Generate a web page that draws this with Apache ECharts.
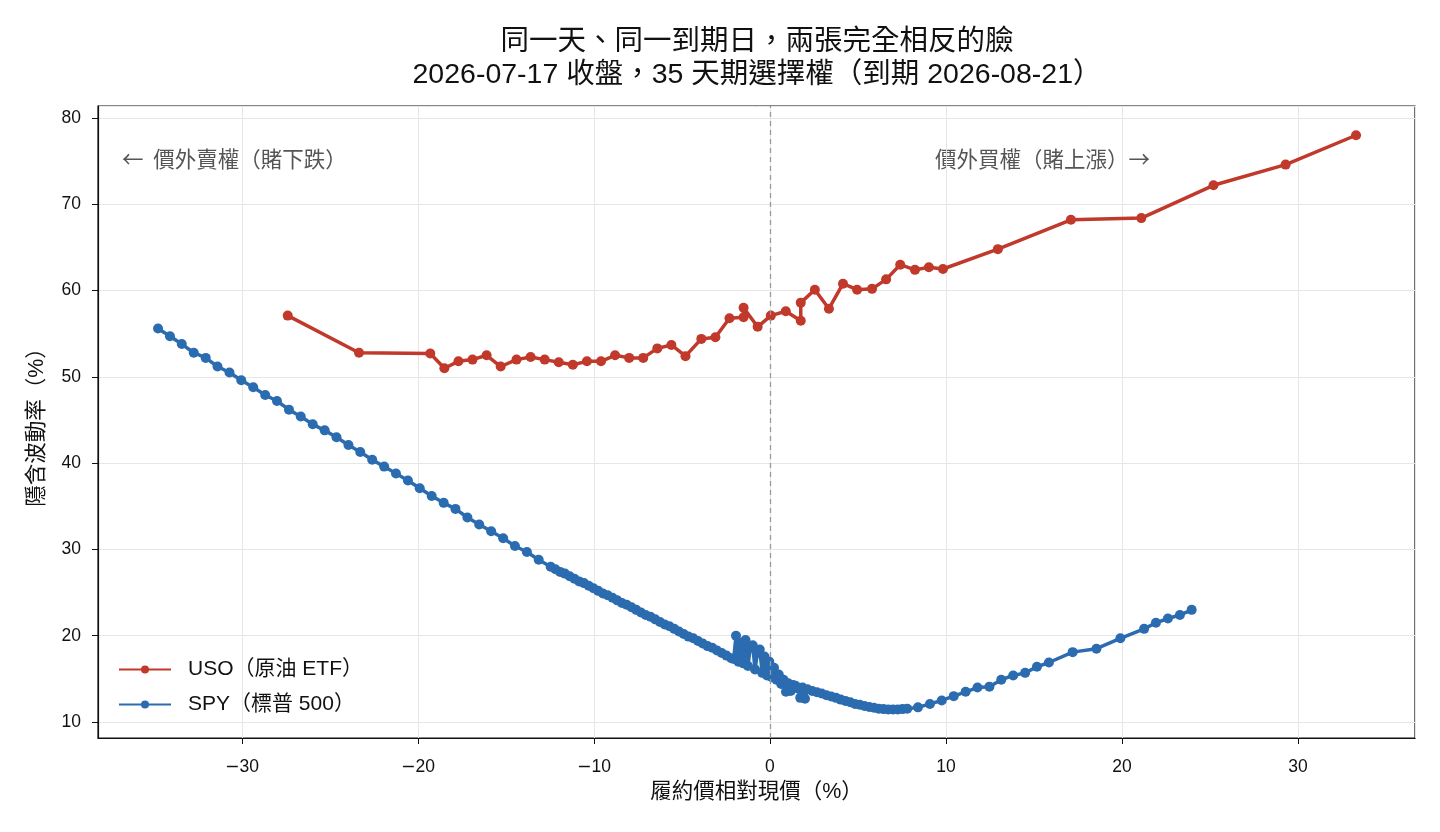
<!DOCTYPE html>
<html>
<head>
<meta charset="utf-8">
<title>USO vs SPY 隱含波動率</title>
<script src="https://cdn.jsdelivr.net/npm/echarts@6/dist/echarts.min.js"></script>
<style>
  html, body { margin: 0; padding: 0; background: #fff; }
  #chart { width: 1440px; height: 832px; }
</style>
</head>
<body>
<div id="chart"></div>
<script>
// USO (原油 ETF): strike vs spot (%) and implied vol (%)
const usoMoneyness = [-27.4, -23.35, -19.3, -18.5, -17.7, -16.9, -16.1, -15.3, -14.4, -13.6,
  -12.8, -12.0, -11.2, -10.4, -9.6, -8.8, -8.0, -7.2, -6.4, -5.6,
  -4.8, -3.9, -3.1, -2.3, -1.5, -1.5, -0.7, 0.05, 0.9, 1.75,
  1.75, 2.55, 3.35, 4.15, 4.95, 5.8, 6.6, 7.4, 8.24, 9.03,
  9.83, 12.95, 17.1, 21.1, 25.2, 29.3, 33.3];
const usoIV = [57.1, 52.8, 52.7, 51.0, 51.8, 52.0, 52.5, 51.2, 52.0, 52.3,
  52.0, 51.7, 51.4, 51.8, 51.8, 52.5, 52.2, 52.2, 53.3, 53.7,
  52.4, 54.4, 54.6, 56.8, 56.9, 58.0, 55.8, 57.1, 57.6, 56.5,
  58.6, 60.1, 57.9, 60.8, 60.1, 60.2, 61.3, 63.0, 62.4, 62.7,
  62.5, 64.8, 68.2, 68.4, 72.2, 74.6, 78.0];

// SPY (標普 500)
const spyMoneyness = [
  -34.77, -34.09, -33.42, -32.74, -32.06, -31.39, -30.71, -30.04, -29.36, -28.68,
  -28.01, -27.33, -26.66, -25.98, -25.30, -24.63, -23.95, -23.28, -22.60, -21.92,
  -21.25, -20.57, -19.90, -19.22, -18.54, -17.87, -17.19, -16.52, -15.84, -15.16,
  -14.49, -13.81, -13.14,
  -12.46, -12.19, -11.92, -11.65, -11.38, -11.11, -10.84, -10.57, -10.30, -10.03,
  -9.76, -9.49, -9.22, -8.95, -8.68, -8.41, -8.14, -7.87, -7.60, -7.33,
  -7.06, -6.79, -6.52, -6.25, -5.98, -5.71, -5.44, -5.17, -4.90, -4.63,
  -4.36, -4.09, -3.82, -3.55, -3.28, -3.01, -2.74, -2.47, -2.20,
  -2.06, -1.93, -1.79, -1.66, -1.52, -1.39, -1.25, -1.12, -0.98, -0.85,
  -0.71, -0.58, -0.44, -0.31, -0.17, -0.04, 0.10, 0.23, 0.37, 0.50,
  0.64, 0.77, 0.91, 1.04, 1.18, 1.31, 1.45, 1.58, 1.72, 1.85, 1.99,
  2.13, 2.40, 2.67, 2.94, 3.21, 3.48, 3.75, 4.02, 4.29, 4.56,
  4.83, 5.10, 5.37, 5.64, 5.91, 6.18, 6.45, 6.72, 6.99, 7.26, 7.53, 7.80,
  8.41, 9.09, 9.76, 10.44, 11.12, 11.79, 12.47, 13.14, 13.82, 14.50,
  15.17, 15.85, 17.20, 18.55, 19.91, 21.26, 21.93, 22.61, 23.29, 23.96];
const spyIV = [
  55.6, 54.7, 53.8, 52.8, 52.2, 51.2, 50.5, 49.6, 48.8, 47.9,
  47.2, 46.2, 45.4, 44.5, 43.8, 43.0, 42.1, 41.3, 40.4, 39.6,
  38.8, 38.0, 37.1, 36.2, 35.4, 34.7, 33.7, 32.9, 32.1, 31.3,
  30.4, 29.7, 28.8,
  28.0, 27.7, 27.4, 27.2, 26.9, 26.6, 26.3, 26.1, 25.8, 25.5,
  25.2, 24.9, 24.7, 24.4, 24.1, 23.8, 23.6, 23.3, 23.0, 22.7,
  22.4, 22.2, 21.9, 21.6, 21.3, 21.1, 20.8, 20.5, 20.2, 19.9,
  19.7, 19.4, 19.1, 18.8, 18.6, 18.3, 18.0, 17.7, 17.4,
  17.3, 20.0, 17.0, 19.2, 16.8, 19.5, 16.5, 18.6, 18.9, 16.1,
  18.0, 18.4, 15.7, 17.6, 15.4, 17.0, 15.2, 16.3, 14.9, 15.5,
  14.4, 14.9, 13.5, 14.5, 13.6, 14.3, 14.2, 13.9, 12.8, 14.0, 12.7,
  13.8, 13.6, 13.45, 13.3, 13.1, 12.95, 12.8, 12.6, 12.45, 12.3,
  12.1, 12.0, 11.85, 11.75, 11.65, 11.55, 11.5, 11.45, 11.45, 11.45, 11.5, 11.55,
  11.7, 12.1, 12.5, 13.0, 13.5, 14.0, 14.1, 14.9, 15.4, 15.7,
  16.4, 16.9, 18.1, 18.5, 19.7, 20.8, 21.5, 22.0, 22.4, 23.0];

const xRange = [-38.18, 36.65];
const yRange = [8.15, 81.39];

const FONT = "'Liberation Sans', 'Noto Sans CJK TC', sans-serif";
const CJK_FIRST = "'Noto Sans CJK TC', 'Liberation Sans', sans-serif";
const RED = '#c0392b';
const BLUE = '#2b6cb0';

// only the multiples of 10 get a label; negatives use a wide minus sign
function tickLabel(v) {
  if (Math.abs(v % 10) > 1e-6) return '';
  return v < 0 ? '{m|\u2212}' + Math.abs(v) : String(v);
}

function pairs(xs, ys) {
  return xs.map((x, i) => [x, ys[i]]);
}

const tickText = {
  formatter: tickLabel, fontSize: 17.5, color: '#111',
  showMinLabel: false, showMaxLabel: false,
  rich: { m: { fontFamily: 'DejaVu Sans', fontSize: 17.5, color: '#111' } }
};

const chart = echarts.init(document.getElementById('chart'), null, { renderer: 'canvas' });

const option = {
  animation: false,
  backgroundColor: '#fff',
  textStyle: { fontFamily: FONT },
  title: {
    text: '同一天、同一到期日，兩張完全相反的臉\n2026-07-17 收盤，35 天期選擇權（到期 2026-08-21）',
    left: 752,
    top: 21,
    textAlign: 'center',
    textStyle: { fontFamily: FONT, fontSize: 28.5, fontWeight: 'normal', color: '#111', lineHeight: 33 }
  },
  grid: {
    left: 98, right: 25, top: 106, bottom: 94,
    show: true, borderColor: '#111', borderWidth: 1.2, backgroundColor: 'transparent'
  },
  legend: {
    orient: 'vertical',
    left: 118, top: 659, padding: 0,
    itemWidth: 52, itemHeight: 10, itemGap: 14,
    textStyle: { fontFamily: FONT, fontSize: 21, color: '#111', padding: [0, 0, 0, 12] },
    data: ['USO（原油 ETF）', 'SPY（標普 500）']
  },
  xAxis: {
    type: 'value',
    min: xRange[0], max: xRange[1], splitNumber: 7,
    name: '履約價相對現價（%）',
    nameLocation: 'middle', nameGap: 43,
    nameTextStyle: { fontFamily: FONT, fontSize: 21.5, color: '#111' },
    axisLine: { show: true, onZero: false, lineStyle: { color: '#111', width: 1.2 } },
    axisTick: { show: true, length: 6, lineStyle: { color: '#111' } },
    axisLabel: Object.assign({ margin: 20 }, tickText),
    splitLine: { show: true, lineStyle: { color: '#e6e6e6', width: 1 } }
  },
  yAxis: {
    type: 'value',
    min: yRange[0], max: yRange[1], splitNumber: 7,
    name: '隱含波動率（%）',
    nameLocation: 'middle', nameGap: 50,
    nameTextStyle: { fontFamily: FONT, fontSize: 21.5, color: '#111' },
    axisLine: { show: true, onZero: false, lineStyle: { color: '#111', width: 1.2 } },
    axisTick: { show: true, length: 6, lineStyle: { color: '#111' } },
    axisLabel: Object.assign({ margin: 17 }, tickText),
    splitLine: { show: true, lineStyle: { color: '#e6e6e6', width: 1 } }
  },
  graphic: [
    {
      type: 'text', left: 122, top: 148, silent: true,
      style: { text: '←  價外賣權（賭下跌）', fontFamily: CJK_FIRST, fontSize: 21.5, fill: '#555' }
    },
    {
      type: 'text', right: 290, top: 148, silent: true,
      style: { text: '價外買權（賭上漲）→', fontFamily: CJK_FIRST, fontSize: 21.5, fill: '#555' }
    }
  ],
  series: [
    {
      name: 'atm',
      type: 'line',
      data: [],
      z: 1,
      silent: true,
      markLine: {
        silent: true,
        symbol: 'none',
        label: { show: false },
        lineStyle: { color: '#999', type: [5, 4], width: 1.3 },
        data: [{ xAxis: 0 }]
      }
    },
    {
      name: 'USO（原油 ETF）',
      type: 'line',
      z: 2,
      data: pairs(usoMoneyness, usoIV),
      symbol: 'circle', symbolSize: 10,
      lineStyle: { color: RED, width: 3.5 },
      itemStyle: { color: RED }
    },
    {
      name: 'SPY（標普 500）',
      type: 'line',
      z: 3,
      data: pairs(spyMoneyness, spyIV),
      symbol: 'circle', symbolSize: 10,
      lineStyle: { color: BLUE, width: 3.5 },
      itemStyle: { color: BLUE }
    }
  ]
};

chart.setOption(option);
</script>
</body>
</html>
